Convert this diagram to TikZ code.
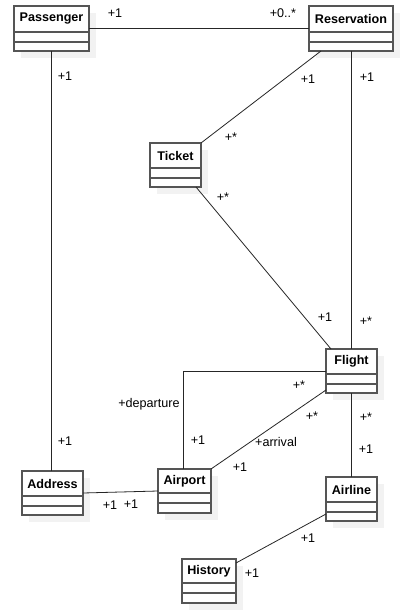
\documentclass[tikz,border=0pt]{standalone}
\usepackage{fontspec}
\setmainfont{Liberation Sans}
\usetikzlibrary{calc}
\definecolor{shadowc}{HTML}{F2F2F2}
\definecolor{edgec}{HTML}{555555}
\begin{document}
\begin{tikzpicture}[x=1pt,y=-1pt,
  conn/.style={draw=black!85, line width=0.8pt},
  clsbox/.style={draw=edgec, line width=1.1pt, fill=white, inner sep=0pt, outer sep=0pt},
  clsline/.style={draw=edgec, line width=1.1pt},
  clsname/.style={font=\bfseries\fontsize{12.6}{14}\selectfont, inner sep=0pt},
  lbl/.style={font=\fontsize{12.6}{14}\selectfont, inner sep=0pt}]
\useasboundingbox (0,0) rectangle (417,615);
\fill[white] (0,0) rectangle (417,615);
\newcommand\umlcls[8]{%
  \fill[shadowc] (#2+7,#3+7) rectangle (#4+7,#5+7);
  \node[clsbox, minimum width={#4-#2}, minimum height={#5-#3}, anchor=north west] (#1) at (#2,#3) {};
  \draw[clsline] (#2,#6) -- (#4,#6) (#2,#7) -- (#4,#7);
  \node[clsname] (#1-name) at ({(#2+#4)/2},{(#3+#6)/2}) {#8};
}
\umlcls{pass}{14}{6}{89}{51}{32}{42}{Passenger}
\umlcls{res}{309}{6}{393}{51}{32}{42}{Reservation}
\umlcls{ticket}{150}{143}{201}{187}{168}{178}{Ticket}
\umlcls{flight}{326}{349}{377}{393}{374}{384}{Flight}
\umlcls{addr}{22}{471}{83}{515}{496}{506}{Address}
\umlcls{airport}{158}{469}{211}{513}{493}{503}{Airport}
\umlcls{airline}{326}{477}{377}{521}{502}{512}{Airline}
\umlcls{history}{182}{559}{236}{603}{583}{593}{History}

\draw[conn] (pass.east) -- (res.west);
\draw[conn] (pass.south) -- (pass.south |- addr.north);
\draw[conn] (res.south) -- (res.south |- flight.north);
\draw[conn] ([xshift=12pt]res.south west) -- (ticket.north east);
\draw[conn] ([xshift=-5pt]ticket.south east) -- ([xshift=5pt]flight.north west);
\draw[conn] (flight.west) -| ([xshift=25pt]airport.north west);
\draw[conn] ([yshift=3pt]flight.south west) -- (airport.north east);
\draw[conn] (flight.south) -- (airline.north);
\draw[conn] (addr.east) -- (airport.west);
\draw[conn] ([yshift=7pt]airline.south west) -- ([yshift=-4pt]history.north east);

\node[lbl] (l1) at (115,13) {+1};
\node[lbl] (l2) at (283,13) {+0..*};
\node[lbl] (l3) at (65,76) {+1};
\node[lbl] (l4) at (308,79) {+1};
\node[lbl] (l5) at (367,77) {+1};
\node[lbl] (l6) at (231,137) {+*};
\node[lbl] (l7) at (223,197) {+*};
\node[lbl] (l8) at (325,317) {+1};
\node[lbl] (l9) at (366,321) {+*};
\node[lbl] (l10) at (299,385) {+*};
\node[lbl] (l11) at (312,416) {+*};
\node[lbl] (l12) at (366,417) {+*};
\node[lbl] (l13) at (149,404) {+departure};
\node[lbl] (l14) at (198,440) {+1};
\node[lbl] (l15) at (276,442) {+arrival};
\node[lbl] (l16) at (240,467) {+1};
\node[lbl] (l17) at (65,441) {+1};
\node[lbl] (l18) at (110,505) {+1};
\node[lbl] (l19) at (131,504) {+1};
\node[lbl] (l20) at (366,449) {+1};
\node[lbl] (l21) at (308,538) {+1};
\node[lbl] (l22) at (252,573) {+1};
\end{tikzpicture}
\end{document}
